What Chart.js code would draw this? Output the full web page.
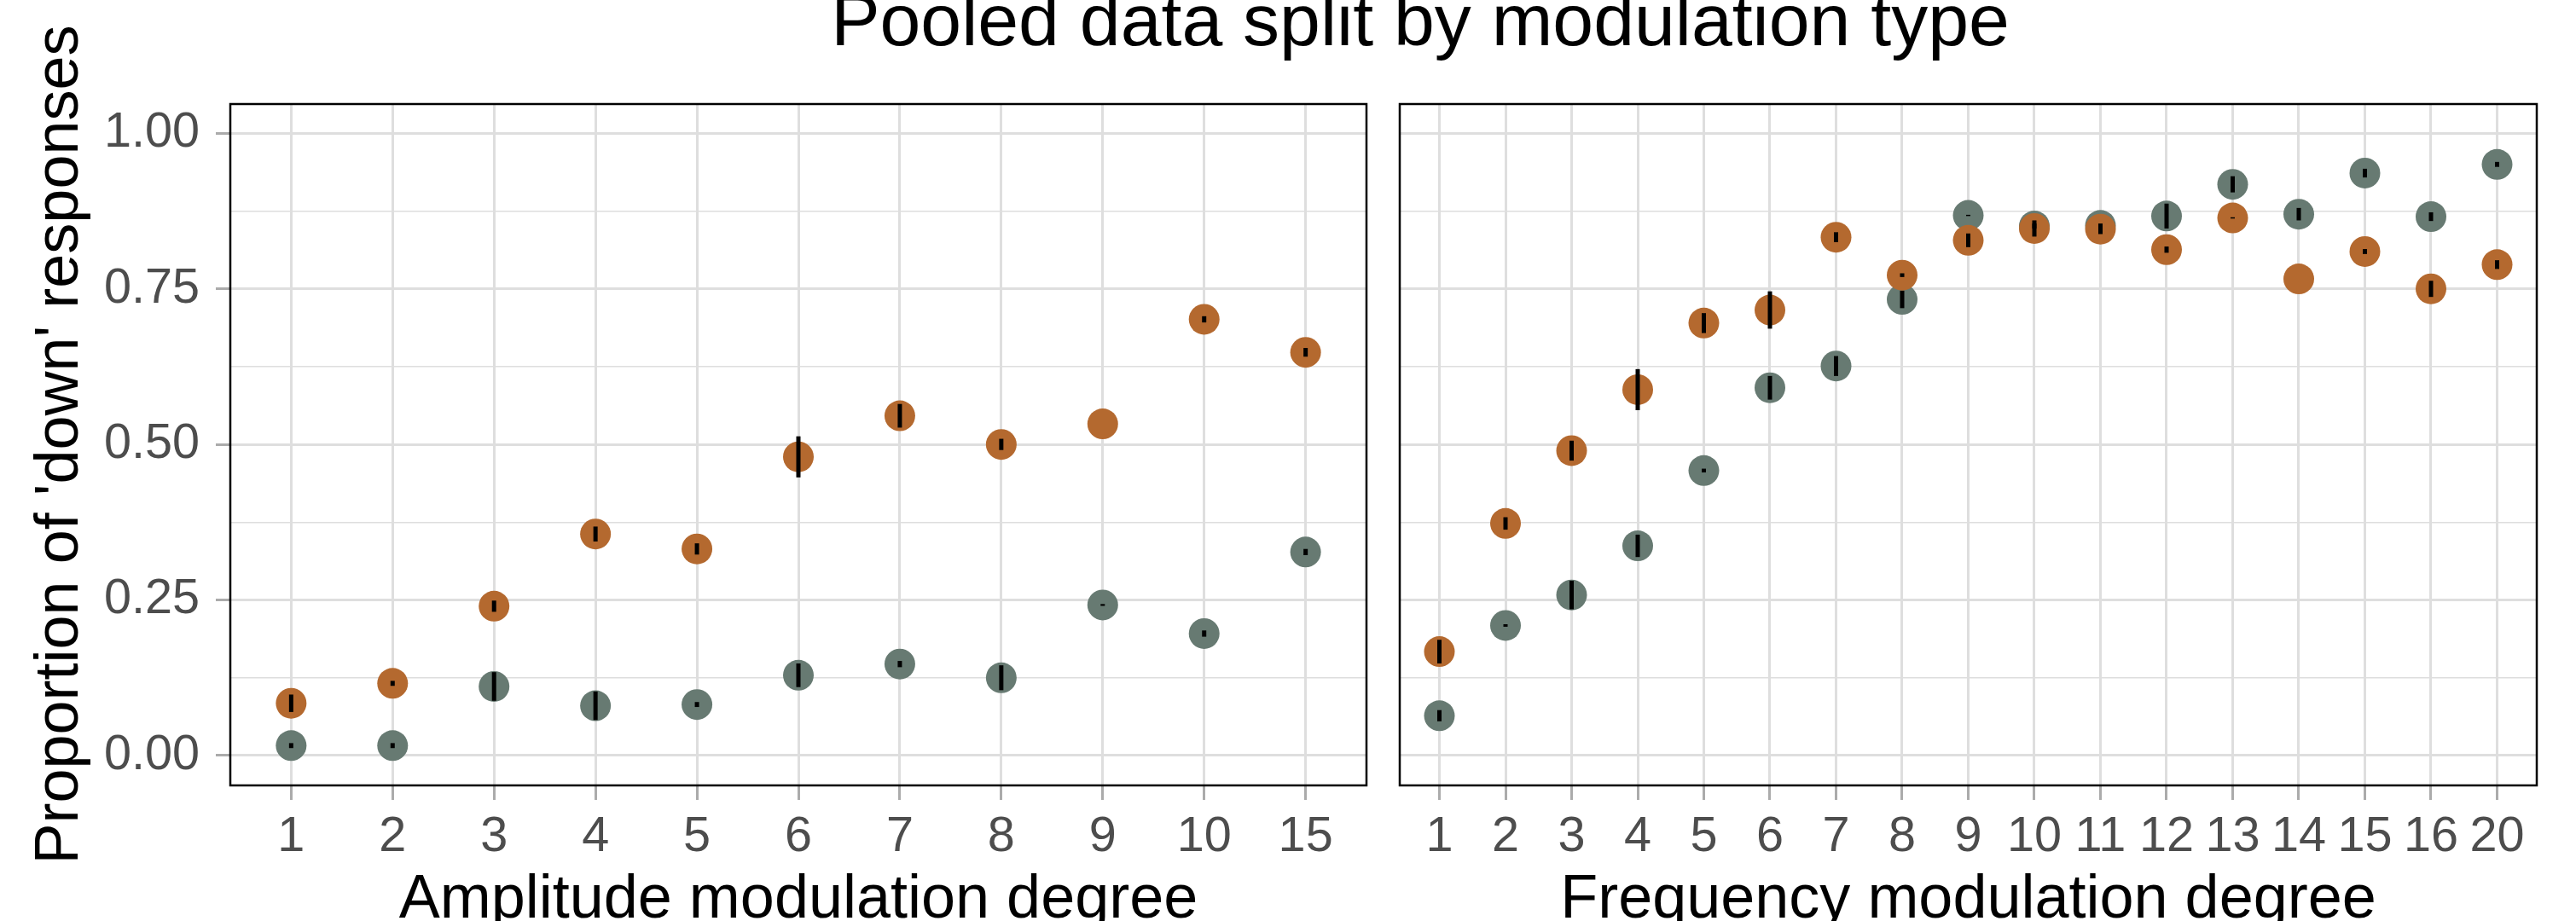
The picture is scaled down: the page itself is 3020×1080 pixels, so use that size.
<!DOCTYPE html>
<html>
<head>
<meta charset="utf-8">
<script src="https://cdn.jsdelivr.net/npm/chart.js@4"></script>
<style>
  html, body { margin: 0; padding: 0; background: #fff; overflow: hidden; }
  #wrap { position: relative; width: 3020px; height: 1080px; overflow: hidden; }
  #title {
    position: absolute; left: 0; width: 3330px; top: -20px;
    text-align: center; font: 86px "Liberation Sans", Arial, sans-serif;
    line-height: 86px; color: #000; white-space: nowrap;
  }
  canvas { position: absolute; top: 0; }
  #amChart { left: 0; }
  #fmChart { left: 1620px; }
</style>
</head>
<body>
<div id="wrap">
  <div id="title">Pooled data split by modulation type</div>
  <canvas id="amChart" width="1620" height="1080"></canvas>
  <canvas id="fmChart" width="1400" height="1080"></canvas>
</div>
<script>
// Datos
const amCats = ['1', '2', '3', '4', '5', '6', '7', '8', '9', '10', '15'];
const amOrange = [0.084, 0.116, 0.240, 0.356, 0.332, 0.480, 0.546, 0.500, 0.533, 0.701, 0.648];
const amOrangeErr = [0.014, 0.004, 0.009, 0.012, 0.009, 0.033, 0.019, 0.009, 0, 0.005, 0.007];
const amGray = [0.016, 0.016, 0.111, 0.080, 0.082, 0.129, 0.147, 0.125, 0.242, 0.196, 0.327];
const amGrayErr = [0.004, 0.004, 0.023, 0.023, 0.004, 0.019, 0.005, 0.020, 0.0015, 0.005, 0.005];

const fmCats = ['1', '2', '3', '4', '5', '6', '7', '8', '9', '10', '11', '12', '13', '14', '15', '16', '20'];
const fmOrange = [0.167, 0.373, 0.490, 0.588, 0.695, 0.716, 0.833, 0.772, 0.828, 0.847, 0.846, 0.813, 0.864, 0.766, 0.810, 0.750, 0.789];
const fmOrangeErr = [0.019, 0.010, 0.016, 0.033, 0.016, 0.030, 0.008, 0.003, 0.011, 0.013, 0.008, 0.005, 0.001, 0, 0.004, 0.013, 0.007];
const fmGray = [0.064, 0.209, 0.258, 0.337, 0.458, 0.591, 0.626, 0.733, 0.868, 0.851, 0.852, 0.867, 0.918, 0.870, 0.936, 0.866, 0.950];
const fmGrayErr = [0.009, 0.002, 0.023, 0.018, 0.003, 0.019, 0.016, 0.014, 0.001, 0.004, 0.003, 0.020, 0.013, 0.010, 0.007, 0.007, 0.004];

const yTicks = [0, 0.125, 0.25, 0.375, 0.5, 0.625, 0.75, 0.875, 1];

const ORANGE = '#B4692F';
const GRAY = '#677A72';
const GRID = '#DEDEDE';
const TICK = '#ABABAB';
const FONT = '"Liberation Sans", Arial, sans-serif';

const isMajor = v => Math.abs(v * 4 - Math.round(v * 4)) < 1e-6;

// Barras de error y borde del panel
const errorBars = {
    id: 'errorBars',
    afterDatasetsDraw(chart) {
        const { ctx, scales: { x, y } } = chart;
        ctx.save();
        ctx.strokeStyle = '#000';
        ctx.lineWidth = 5;
        chart.data.datasets.forEach(ds => {
            ds.data.forEach((p, i) => {
                const e = ds.errors[i];
                if (!e) return;
                const px = x.getPixelForValue(p.x);
                ctx.beginPath();
                ctx.moveTo(px, y.getPixelForValue(p.y - e));
                ctx.lineTo(px, y.getPixelForValue(p.y + e));
                ctx.stroke();
            });
        });
        const a = chart.chartArea;
        ctx.lineWidth = 2.5;
        ctx.strokeRect(a.left, a.top, a.right - a.left, a.bottom - a.top);
        ctx.restore();
    }
};

function makeChart(id, cats, orange, orangeErr, gray, grayErr, xTitle, showY, yWidth, padRight) {
    const toPts = vals => vals.map((v, i) => ({ x: i, y: v }));
    return new Chart(document.getElementById(id), {
        type: 'scatter',
        data: {
            datasets: [
                { data: toPts(orange), errors: orangeErr, backgroundColor: ORANGE },
                { data: toPts(gray), errors: grayErr, backgroundColor: GRAY }
            ]
        },
        options: {
            responsive: false,
            animation: false,
            devicePixelRatio: 1,
            layout: { padding: { top: 122, right: padRight, left: 0, bottom: 0 } },
            elements: { point: { radius: 18, borderWidth: 0, hoverRadius: 18 } },
            plugins: { legend: { display: false }, tooltip: { enabled: false } },
            events: [],
            scales: {
                x: {
                    type: 'linear',
                    min: -0.6,
                    max: cats.length - 1 + 0.6,
                    afterBuildTicks: axis => { axis.ticks = cats.map((c, i) => ({ value: i })); },
                    afterFit: axis => { axis.height = 159; },
                    border: { display: false },
                    grid: { color: GRID, lineWidth: 3, tickColor: TICK, tickWidth: 3, tickLength: 17 },
                    ticks: {
                        color: '#4D4D4D', padding: 10,
                        font: { family: FONT, size: 57.6 },
                        callback: v => cats[v]
                    },
                    title: {
                        display: true, text: xTitle, color: '#000',
                        font: { family: FONT, size: 72 }, padding: { top: 0, bottom: -19 }
                    }
                },
                y: {
                    min: -0.048,
                    max: 1.047,
                    afterBuildTicks: axis => { axis.ticks = yTicks.map(v => ({ value: v })); },
                    afterFit: axis => { axis.width = yWidth; },
                    border: { display: false },
                    grid: {
                        color: GRID,
                        lineWidth: c => (c.tick && isMajor(c.tick.value)) ? 3 : 1.5,
                        tickColor: c => (c.tick && isMajor(c.tick.value)) ? TICK : 'rgba(0,0,0,0)',
                        tickWidth: 3,
                        tickLength: 17,
                        drawTicks: showY
                    },
                    ticks: {
                        display: showY,
                        color: '#4D4D4D', padding: 19,
                        font: { family: FONT, size: 57.6 },
                        callback: v => isMajor(v) ? v.toFixed(2) : ''
                    },
                    title: {
                        display: showY, text: "Proportion of 'down' responses", color: '#000',
                        font: { family: FONT, size: 72 }, padding: { top: 28, bottom: 0 }
                    }
                }
            }
        },
        plugins: [errorBars]
    });
}

makeChart('amChart', amCats, amOrange, amOrangeErr, amGray, amGrayErr,
    'Amplitude modulation degree', true, 270, 17);
makeChart('fmChart', fmCats, fmOrange, fmOrangeErr, fmGray, fmGrayErr,
    'Frequency modulation degree', false, 21, 46);
</script>
</body>
</html>
